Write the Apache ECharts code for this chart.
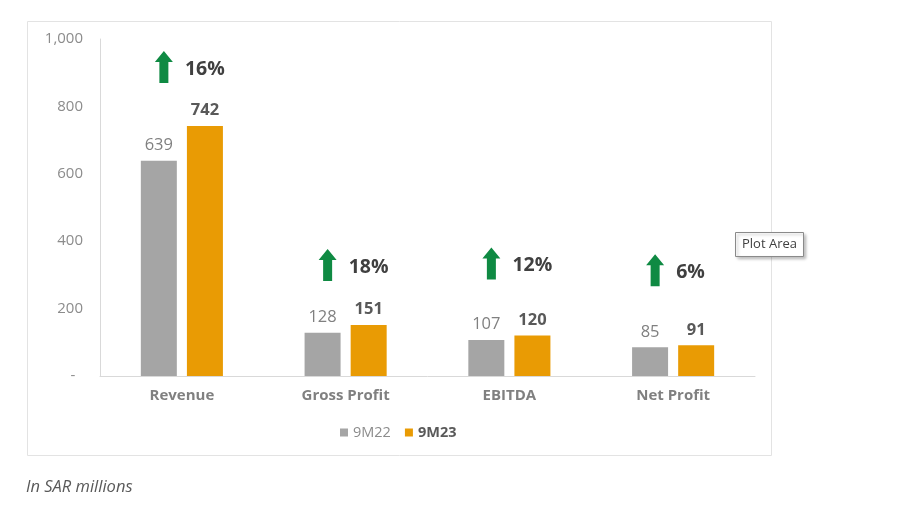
<!DOCTYPE html>
<html>
<head>
<meta charset="utf-8">
<script src="https://cdn.jsdelivr.net/npm/echarts@6/dist/echarts.min.js"></script>
<style>
html,body{margin:0;padding:0;background:#fff;}
#chart{width:900px;height:521px;}
</style>
</head>
<body>
<div id="chart"></div>
<script>
// ---- data ----
var categories = ['Revenue', 'Gross Profit', 'EBITDA', 'Net Profit'];
var values9M22 = [639, 128, 107, 85];
var values9M23 = [742, 151, 120, 91];
var growthLabels = ['16%', '18%', '12%', '6%'];
var seriesNames = ['9M22', '9M23'];
var yTicks = [0, 200, 400, 600, 800, 1000];

// ---- styles ----
var FONT = '"Open Sans", Lato, sans-serif';
var annotationLift = [57, 58, 70, 73]; // px above the taller bar
var annotationShift = -18;             // px from category centre

var chart = echarts.init(document.getElementById('chart'));

var annData = categories.map(function (c, i) {
  return [i, Math.max(values9M22[i], values9M23[i]), growthLabels[i]];
});

var option = {
  animation: false,
  backgroundColor: '#fff',
  textStyle: { fontFamily: FONT },
  graphic: [
    { type: 'rect', left: 27, top: 21, z: -10, silent: true,
      shape: { width: 744, height: 434 },
      style: { fill: '#fff', stroke: '#e3e3e3', lineWidth: 1 } },
    { type: 'text', left: 26, top: 479,
      style: { text: 'In SAR millions', fill: '#595959', font: 'italic 16.5px ' + FONT } },
    { type: 'group', left: 735, top: 232, z: 100, children: [
      { type: 'rect', shape: { x: 0, y: 0, width: 68, height: 24 },
        style: { fill: '#fff', stroke: '#8a8a8a', lineWidth: 1,
                 shadowBlur: 3, shadowOffsetX: 2, shadowOffsetY: 2, shadowColor: 'rgba(0,0,0,0.25)' } },
      { type: 'text', x: 34, y: 12,
        style: { text: 'Plot Area', fill: '#404040', font: '13px "Open Sans", sans-serif',
                 align: 'center', verticalAlign: 'middle' } }
    ] }
  ],
  grid: { left: 100, right: 145, top: 39, bottom: 145 },
  legend: {
    data: seriesNames,
    left: 335, top: 420,
    itemWidth: 8, itemHeight: 8, itemGap: 14,
    icon: 'rect',
    textStyle: { fontSize: 14, color: '#8c8c8c', fontFamily: FONT, rich: {} }
  },
  xAxis: {
    type: 'category',
    data: categories,
    axisTick: { show: false },
    axisLine: { lineStyle: { color: '#d9d9d9', width: 1 } },
    axisLabel: { color: '#808080', fontSize: 15, fontWeight: 'bold', margin: 12, fontFamily: FONT }
  },
  yAxis: {
    type: 'value',
    min: 0, max: 1000, interval: 200,
    splitLine: { show: false },
    axisTick: { show: false },
    axisLine: { show: true, lineStyle: { color: '#d9d9d9', width: 1 } },
    axisLabel: {
      color: '#8c8c8c', fontSize: 15, margin: 17, fontFamily: FONT,
      formatter: function (v) {
        if (yTicks.indexOf(v) < 0) return '';
        return v === 0 ? '-  ' : v.toLocaleString('en-US');
      }
    }
  },
  series: [
    {
      name: seriesNames[0], type: 'bar', data: values9M22,
      barWidth: 36, barGap: '28%',
      itemStyle: { color: '#a5a5a5' },
      label: { show: true, position: 'top', distance: 7, color: '#808080', fontSize: 16.5, fontFamily: FONT }
    },
    {
      name: seriesNames[1], type: 'bar', data: values9M23,
      barWidth: 36,
      itemStyle: { color: '#e99b04' },
      label: { show: true, position: 'top', distance: 7, color: '#595959', fontSize: 16.5, fontWeight: 'bold', fontFamily: FONT }
    },
    {
      type: 'custom', name: 'growth', data: annData, z: 10, silent: true,
      renderItem: function (params, api) {
        var i = api.value(0);
        var p = api.coord([i, api.value(1)]);
        var cx = p[0] + annotationShift;
        var cy = p[1] - annotationLift[i];
        var ay = cy - 2;
        var top = ay - 16, bot = ay + 16, headY = ay - 5;
        return {
          type: 'group',
          children: [
            { type: 'polygon',
              shape: { points: [[cx, top], [cx + 9, headY], [cx + 4.5, headY], [cx + 4.5, bot],
                                [cx - 4.5, bot], [cx - 4.5, headY], [cx - 9, headY]] },
              style: { fill: '#0f8a43' } },
            { type: 'text', x: cx + 21, y: cy,
              style: { text: growthLabels[i], fill: '#404040', font: 'bold 19.5px ' + FONT,
                       align: 'left', verticalAlign: 'middle' } }
          ]
        };
      }
    }
  ]
};

option.legend.formatter = function (n) {
  return n === seriesNames[1] ? '{b|' + n + '}' : '{r|' + n + '}';
};
option.legend.textStyle.rich = {
  r: { fontSize: 14.5, color: '#8c8c8c', fontFamily: FONT },
  b: { fontSize: 14.5, color: '#595959', fontWeight: 'bold', fontFamily: FONT }
};

chart.setOption(option);
</script>
</body>
</html>
